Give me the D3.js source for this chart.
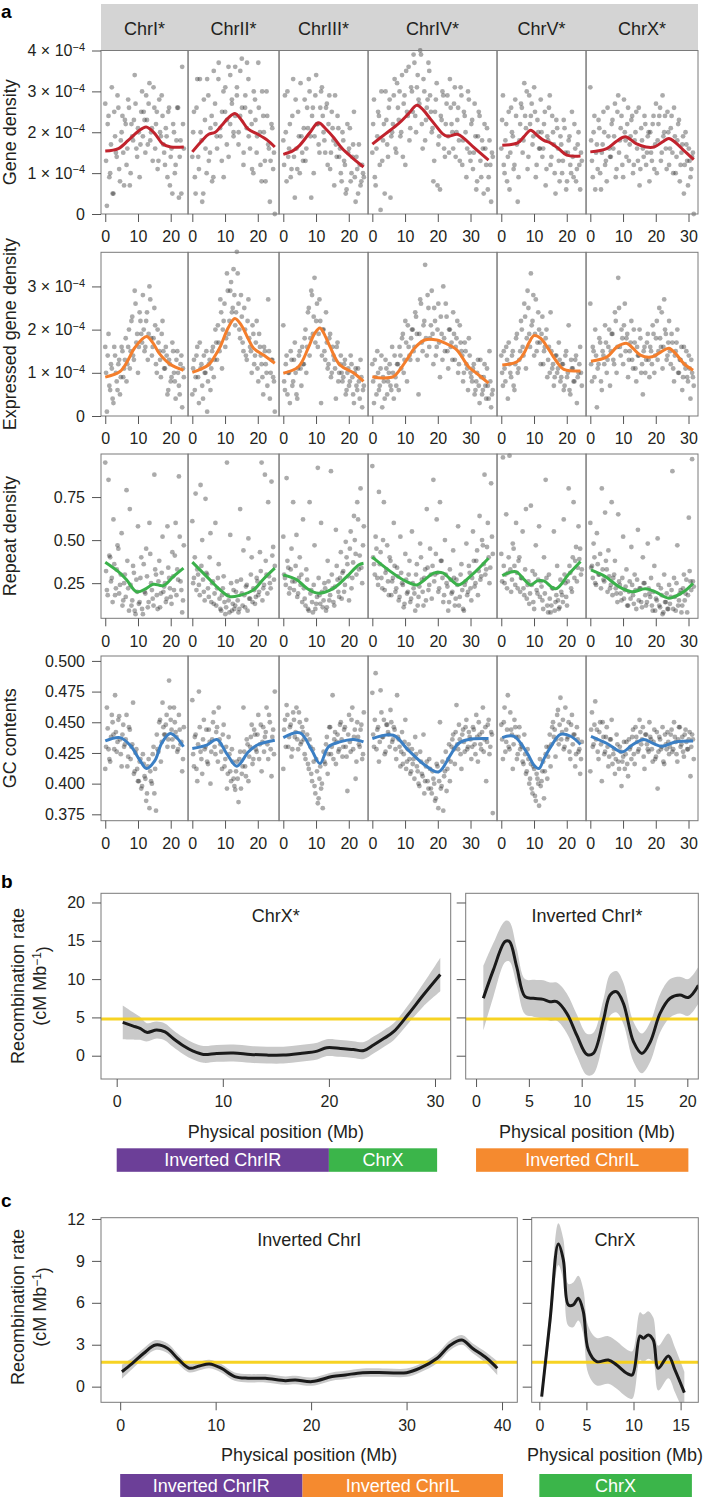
<!DOCTYPE html>
<html>
<head>
<meta charset="utf-8">
<script src="https://cdn.jsdelivr.net/npm/d3@7"></script>
<style>
body { margin: 0; background: #fff; }
text { font-family: "Liberation Sans", Arial, sans-serif; }
</style>
</head>
<body>
<svg id="chart" width="707" height="1497"></svg>
<script>
// ---------- panel a data ----------
var chromNames = ['ChrI*', 'ChrII*', 'ChrIII*', 'ChrIV*', 'ChrV*', 'ChrX*'];
var chromLen = [24.0, 25.2, 24.6, 36.8, 24.6, 31.6];   // Mb
var chromTicks = [[0, 10, 20], [0, 10, 20], [0, 10, 20], [0, 10, 20, 30], [0, 10, 20], [0, 10, 20, 30]];

// gene density, units of 1e-4; windows evenly spaced along each chromosome
var geneDensity = [
	[2.7,0.2,2.4,1.0,3.1,0.5,1.9,1.4,2.6,0.8,2.0,1.5,2.3, 1.2,2.8,0.7,2.2,1.8,3.4,1.6,2.1,0.9,2.5,1.9,2.3, 2.9,1.7,3.2,2.0,1.3,2.6,2.2,1.1,2.8,1.9,2.4,1.5, 2.1,0.9,2.6,1.4,0.5,2.0,1.2,2.6,0.4,1.8,3.6,1.6],
	[1.4,2.5,0.5,3.3,1.1,2.0,0.3,2.8,1.6,3.3,1.3,2.1,0.8, 3.5,2.2,1.6,3.7,1.9,2.5,0.9,3.1,2.3,1.4,3.4,2.7,2.0, 3.6,2.9,1.7,2.4,3.8,1.2,2.6,2.1,3.3,1.6,2.2,1.0,2.8, 1.5,3.7,2.0,0.8,2.4,1.3,3.0,1.7,0.3,2.2,1.1,0.0],
	[1.8,2.9,0.8,1.4,2.2,1.1,3.3,0.4,1.6,2.5,1.0,1.9,1.3, 2.8,1.6,2.1,3.0,0.4,2.6,1.9,3.4,2.2,1.5,3.0,2.4, 1.8,2.6,1.2,2.9,1.5,2.1,0.7,1.7,2.4,1.4,1.0,2.0, 1.3,0.5,2.2,1.6,0.8,1.4,2.5,0.3,1.1,1.7,0.7,1.2,0.9],
	[1.5,2.8,0.7,1.9,2.4,0.1,1.3,2.2,3.0,1.7,2.6,0.4,2.0, 2.9,1.6,3.2,2.3,1.9,3.4,2.7,1.2,2.5,3.6,2.1,3.0, 3.9,2.4,3.1,2.8,4.0,2.2,3.3,1.8,2.6,3.7,2.9,2.0, 0.8,2.5,3.2,1.7,0.6,2.3,2.9,1.4,2.7,1.9,3.3,2.2, 1.6,3.1,2.0,2.6,1.3,2.9,1.8,2.4,0.9,3.0,1.5,2.2, 1.1,2.7,0.6,1.9,2.4,0.9,1.6,2.2,1.2,0.6,1.8,0.3,1.4],
	[1.6,2.9,1.0,2.2,1.4,0.6,2.6,1.9,1.2,2.4,0.3,1.8,2.7, 1.5,3.2,2.1,1.1,2.9,2.4,1.7,3.1,0.9,2.3,1.6,2.8, 1.4,2.2,0.7,1.9,2.6,1.2,2.4,1.7,0.5,2.1,1.3,1.9, 1.0,2.3,1.5,0.8,1.8,1.2,2.5,0.9,1.6,1.1,2.0,0.6,1.3],
	[3.1,1.3,2.0,0.6,1.7,2.3,1.0,1.5,2.5,1.2,0.8,1.9,1.4, 2.2,1.6,2.7,1.1,2.9,1.8,2.4,0.9,2.0,1.4,2.6,1.7, 2.3,1.0,1.8,2.5,1.3,0.7,2.1,1.6,2.4,1.2,1.9,0.8, 1.5,2.2,1.1,2.7,1.8,2.4,1.3,2.9,2.0,1.6,2.5,1.2, 2.1,1.5,2.6,1.0,1.8,2.3,1.2,1.7,0.5,2.0,1.3,1.6,0.9,1.4,0.0]
];
// the windows that sit between the ones above
var geneDensityOffset = [
	[1.3,2.2,0.9,1.7,0.5,2.5,1.5,2.9,1.1,1.8,2.4,0.7, 2.2,1.6,2.6,1.0,1.9,2.3,2.7,1.4,2.0,1.7,3.0,2.5, 1.5,2.3,2.7,1.8,2.1,3.1,1.6,2.5,1.3,2.0,2.9,1.7, 1.2,1.9,2.5,0.7,1.6,2.2,1.0,1.8,2.6,1.4,0.5,2.2],
	[2.0,0.9,2.6,1.4,3.3,1.8,0.5,2.3,1.0,2.9,1.5,2.4,0.9, 2.7,1.9,3.3,2.1,1.3,3.0,2.5,1.7,3.6,2.2,2.8,1.9,2.4, 3.1,2.0,3.5,2.6,1.5,2.9,3.7,1.9,2.5,1.1,3.0,2.3, 1.9,2.6,1.2,3.0,2.0,0.8,2.4,1.6,1.3,2.1,1.5],
	[1.2,2.0,3.0,1.6,0.9,2.4,1.4,2.8,1.1,1.9,3.2,1.5, 2.1,1.3,2.6,3.3,1.9,2.4,1.0,2.9,2.2,1.7,2.6,3.1, 2.0,1.5,2.7,2.2,1.1,2.5,1.8,2.9,1.4,2.1,1.6,0.8, 1.8,1.2,0.6,1.5,2.1,1.0,1.7,0.9,1.4,0.5,1.2,0.8,1.0],
	[2.2,0.9,1.6,2.5,1.2,3.0,1.8,0.5,2.3,1.4,2.8,1.9, 2.2,3.3,1.5,2.6,3.0,2.0,1.4,2.9,3.5,2.4,1.8,3.1, 2.5,3.7,2.0,3.4,2.7,3.9,1.6,3.0,2.3,2.8,3.5,2.5, 2.1,1.3,2.8,0.7,1.9,2.4,3.0,1.6,2.2,2.9,1.5,2.6, 2.0,2.7,1.4,2.3,1.8,3.1,1.2,2.5,2.0,1.6,2.8,1.3, 2.3,1.5,1.9,0.8,2.5,1.3,1.8,0.5,1.6,2.1,0.9,1.2,1.5],
	[2.3,1.2,1.8,0.8,2.5,1.5,2.0,1.1,2.8,1.7,0.9,2.2, 2.6,1.8,2.4,3.0,1.4,2.2,2.7,1.9,2.5,1.2,2.0,1.6, 2.0,1.6,2.5,1.1,1.8,2.9,1.4,2.0,1.0,2.3,1.6,0.8, 1.7,1.3,2.1,0.6,1.5,1.9,1.0,1.4,2.2,0.8,1.7,1.2,1.5],
	[1.8,0.9,2.4,1.5,1.1,2.1,0.6,1.7,2.0,1.3,2.6,1.6, 1.4,2.3,1.9,0.9,2.5,1.5,2.1,1.2,2.8,1.8,2.2,1.3, 1.9,2.4,1.2,2.0,1.6,2.6,1.1,1.8,1.4,2.2,1.5,2.0, 2.0,1.3,2.4,1.7,1.0,2.2,2.6,1.5,1.9,2.4,1.1,2.0, 1.6,2.4,1.0,1.9,1.4,2.2,0.8,1.5,1.9,1.2,1.7,0.7,1.3,1.1,1.5]
];
var geneSmooth = [
	[[0,1.54],[4,1.6],[7,1.8],[10,2.02],[12.5,2.13],[15,1.98],[17.5,1.72],[20,1.64],[24,1.64]],
	[[0,1.52],[3,1.8],[5,1.95],[7,2.0],[9,2.17],[11,2.35],[13,2.46],[15,2.3],[17,2.08],[20,1.95],[23,1.8],[25.2,1.64]],
	[[0,1.46],[3,1.55],[5,1.68],[8,1.98],[10.7,2.23],[13,2.08],[15.5,1.86],[18,1.6],[21,1.38],[24.5,1.15]],
	[[0,1.71],[4,1.96],[8,2.21],[11,2.45],[13.6,2.66],[15.6,2.54],[17.5,2.35],[19.5,2.15],[21.5,1.96],[23,1.9],[26,1.95],[28,1.85],[31,1.63],[35.5,1.32]],
	[[0.3,1.68],[5,1.74],[7,1.9],[9,2.05],[11,1.92],[13,1.8],[15,1.74],[17.5,1.6],[20,1.44],[24.2,1.42]],
	[[0,1.52],[5,1.6],[8,1.78],[10.7,1.89],[14,1.72],[17,1.64],[19.5,1.64],[22,1.76],[24,1.85],[26,1.75],[28.5,1.56],[31.6,1.33]]
];
var geneTicks = [0, 1, 2, 3, 4];

// expressed gene density, units of 1e-4
var exprDensity = [
	[1.6,0.1,1.9,0.6,1.1,0.3,1.4,0.8,1.2,0.5,1.6,0.9,1.3, 0.8,1.6,1.1,2.2,1.4,2.9,1.7,1.0,2.4,1.9,2.8,1.5, 2.2,1.3,3.0,1.8,1.6,2.5,1.2,2.0,1.5,0.9,2.2,1.1, 1.6,0.5,1.3,0.8,1.7,1.0,0.4,1.5,0.7,1.2,0.2,0.9],
	[0.5,1.3,0.9,1.6,0.3,1.1,0.7,1.4,1.0,0.1,1.2,0.6,1.5, 0.9,2.0,1.3,1.7,2.7,1.1,2.2,1.6,3.3,1.9,2.9,2.4,3.4, 2.1,3.8,2.6,1.8,2.3,1.5,2.0,1.3,2.7,1.6,1.0,1.9,1.4, 2.2,0.8,1.6,1.2,0.5,1.5,1.0,2.7,0.4,1.3,0.9,0.1],
	[2.1,0.6,1.4,1.0,0.3,1.3,0.8,1.7,0.5,1.1,1.5,0.7,1.2, 1.8,1.0,2.4,1.4,2.9,1.9,3.2,2.2,1.6,2.7,0.3,2.0, 1.5,2.4,1.1,1.8,0.9,1.6,1.3,0.4,1.7,1.0,1.4,0.8, 1.2,0.5,1.0,0.7,1.4,0.9,0.3,1.1,0.6,0.8,1.3,0.2,0.7],
	[1.2,0.3,0.9,1.5,0.6,1.1,0.2,0.8,1.3,0.5,1.0,0.7,1.6, 0.4,0.9,1.2,0.6,1.4,1.8,1.0,2.2,0.8,1.6,1.3,2.0, 1.5,2.4,1.9,0.5,2.7,1.7,2.1,3.5,1.4,2.5,1.8,2.9, 1.2,2.2,1.6,2.6,0.9,1.9,3.0,1.5,2.3,1.1,2.0,1.7, 2.4,1.3,1.8,1.0,2.1,1.5,0.8,1.7,1.2,0.6,1.4,0.9, 1.1,0.5,0.8,1.3,0.3,0.9,0.6,1.2,0.4,0.7,1.5,0.2,0.6],
	[1.4,0.7,1.1,1.6,0.4,1.2,0.9,1.5,0.6,1.8,1.0,1.3,2.2, 1.6,2.6,1.1,2.9,1.9,3.3,2.2,1.4,2.7,1.7,2.0,1.2, 2.3,1.5,1.8,0.9,1.6,2.4,1.1,0.7,1.4,1.0,1.7,0.8, 1.2,0.6,1.4,0.9,2.1,0.5,1.1,0.8,1.3,0.3,1.0,1.6,0.7],
	[2.6,0.8,1.5,2.0,0.2,1.2,1.7,0.6,1.4,2.1,1.0,1.6,0.7, 1.9,1.3,2.4,1.0,3.2,1.6,2.0,1.2,2.6,1.8,0.9,1.5, 2.2,1.1,1.7,0.8,1.4,2.0,1.0,0.5,1.6,1.3,1.9,0.9, 1.5,2.1,1.0,1.8,1.3,2.5,1.6,1.1,2.7,1.9,1.4,2.2, 1.2,1.7,0.8,1.5,2.0,1.0,1.3,0.6,1.6,1.1,0.9,1.4,0.4,1.0,0.7]
];
var exprDensityOffset = [
	[1.0,1.4,0.7,1.2,0.4,1.6,1.0,0.6,1.3,0.9,1.5,1.1, 1.8,1.2,2.0,1.5,2.3,1.3,2.6,1.9,1.6,2.2,1.7,2.0, 1.6,2.4,1.9,2.7,1.4,1.8,2.1,1.0,1.7,1.3,1.9,1.5, 1.1,1.4,0.6,1.2,0.9,1.5,0.8,1.3,1.0,0.5,1.4,1.1],
	[1.1,0.6,1.4,0.9,1.7,1.2,0.4,1.0,1.5,0.8,1.3,1.1,1.6, 1.3,1.7,2.1,1.5,2.4,2.0,2.6,1.8,2.9,2.2,3.1,2.5,2.8, 2.4,3.3,2.0,2.8,1.7,2.5,1.4,2.2,1.8,1.5,2.1,1.2, 1.7,1.1,1.9,1.4,0.9,1.6,1.2,0.7,1.5,1.0,1.3,0.8],
	[0.8,1.2,0.5,1.0,1.5,0.7,1.3,1.0,0.4,1.4,1.1,1.6, 1.2,2.0,1.6,2.5,1.8,2.8,2.3,1.7,2.6,1.9,2.2,1.4, 2.0,1.3,1.7,1.2,1.9,1.0,1.4,1.1,1.6,0.8,1.2,1.0, 0.9,1.3,0.6,1.1,0.8,1.2,0.5,1.0,0.7,1.1,0.4,0.9,0.6],
	[0.8,1.3,0.5,1.0,0.7,1.4,0.9,0.4,1.1,0.8,1.2,0.6, 1.0,1.4,0.7,1.2,1.6,1.1,1.9,1.3,1.7,2.1,1.4,1.8, 2.0,1.6,2.3,1.3,1.9,2.6,1.5,2.2,1.8,2.8,1.6,2.1, 1.9,2.5,1.4,2.0,1.7,2.3,1.3,1.8,2.6,1.5,2.0,1.6, 1.3,1.9,1.6,2.2,1.2,1.7,1.4,1.0,1.5,1.1,1.8,1.0, 0.8,1.2,0.6,1.0,0.7,1.3,0.5,0.9,0.7,1.1,0.4,0.8,0.5],
	[1.0,1.5,0.8,1.3,1.7,1.0,1.4,0.7,1.2,1.9,1.1,1.5, 2.0,1.4,2.3,1.8,2.5,1.6,2.1,2.8,1.9,1.5,2.4,1.7, 1.9,1.2,1.6,2.0,1.3,1.0,1.5,1.2,0.9,1.4,1.1,1.3, 0.9,1.2,0.7,1.5,1.0,0.6,1.3,1.1,0.8,1.4,0.9,1.2,1.0],
	[1.2,1.6,0.9,1.4,1.1,1.8,0.8,1.5,1.2,1.7,1.3,2.0, 1.5,1.9,1.2,2.2,1.6,2.5,1.4,1.8,2.1,1.5,1.9,1.3, 1.7,1.3,2.0,1.1,1.6,1.4,1.8,1.2,1.5,1.0,1.7,1.3, 1.6,1.2,1.9,1.4,2.2,1.5,1.8,2.4,1.6,2.0,1.3,1.7, 1.5,1.9,1.1,1.4,1.7,1.0,1.3,1.6,0.9,1.2,1.5,0.8,1.1,1.3,0.9]
];
var exprSmooth = [
	[[0,0.9],[4.5,1.03],[7,1.3],[9,1.58],[12.6,1.84],[14.5,1.7],[16.5,1.45],[19.8,1.2],[23.9,1.06]],
	[[0,1.01],[4.9,1.18],[7,1.4],[8.5,1.6],[11,2.05],[13,2.26],[15,2.1],[17,1.8],[18.7,1.57],[22,1.4],[25.2,1.22]],
	[[0,0.99],[4.6,1.14],[7.6,1.57],[9.5,1.9],[11.2,2.04],[12.8,1.85],[14.3,1.6],[17.3,1.18],[21.4,1.0],[24.5,0.8]],
	[[0,0.91],[3,0.88],[6.4,0.91],[8.5,1.08],[10.5,1.3],[13,1.58],[16,1.76],[19.7,1.76],[23,1.66],[25.8,1.53],[27.5,1.35],[29.4,1.14],[32,0.98],[35.5,0.76]],
	[[0.3,1.18],[4.9,1.26],[6.9,1.45],[8.5,1.7],[10,1.86],[12,1.8],[14,1.6],[15.6,1.41],[17.5,1.2],[19.1,1.08],[24.2,1.04]],
	[[0.2,1.27],[5.1,1.37],[8.2,1.6],[11.2,1.68],[13,1.57],[15.3,1.41],[18.9,1.37],[21.5,1.48],[24,1.57],[26,1.45],[28.5,1.22],[31.4,1.06]]
];
var exprTicks = [0, 1, 2, 3];

// repeat density
var repeatDensity = [
	[0.95,0.21,0.85,0.40,0.28,0.62,0.18,0.33,0.45,0.24,0.54,0.15,0.30, 0.79,0.22,0.68,0.12,0.35,0.09,0.27,0.58,0.14,0.40,0.07,0.20, 0.45,0.11,0.60,0.25,0.16,0.88,0.30,0.10,0.38,0.19,0.52,0.23, 0.14,0.58,0.28,0.17,0.43,0.21,0.60,0.33,0.87,0.26,0.08,0.47],
	[0.61,0.28,0.77,0.33,0.24,0.82,0.50,0.20,0.74,0.30,0.17,0.54,0.25, 0.13,0.60,0.22,0.36,0.10,0.18,0.29,0.07,0.95,0.15,0.53,0.09,0.21, 0.12,0.26,0.08,0.68,0.19,0.44,0.11,0.24,0.51,0.16,0.40,0.22,0.13, 0.28,0.18,0.43,0.95,0.22,0.88,0.30,0.72,0.25,0.84,0.46,0.35],
	[0.52,0.28,0.86,0.34,0.22,0.45,0.72,0.26,0.53,0.19,0.40,0.30,0.62, 0.16,0.33,0.10,0.72,0.21,0.08,0.47,0.13,0.92,0.18,0.60,0.11, 0.25,0.09,0.38,0.15,0.90,0.22,0.12,0.56,0.27,0.17,0.43,0.31, 0.20,0.49,0.36,0.15,0.55,0.28,0.64,0.42,0.72,0.33,0.80,0.25,0.58],
	[0.93,0.36,0.52,0.28,0.78,0.43,0.22,0.72,0.31,0.47,0.18,0.38,0.26, 0.60,0.20,0.34,0.15,0.52,0.25,0.11,0.42,0.19,0.30,0.14,0.55, 0.22,0.09,0.36,0.17,0.48,0.27,0.12,0.33,0.68,0.21,0.45,0.16, 0.85,0.30,0.62,0.20,0.72,0.38,0.14,0.50,0.25,0.09,0.33,0.19, 0.44,0.12,0.27,0.58,0.17,0.36,0.10,0.24,0.48,0.20,0.31,0.15, 0.55,0.23,0.38,0.18,0.64,0.29,0.47,0.88,0.33,0.60,0.25,0.83,0.42],
	[0.42,0.98,0.25,0.65,0.31,0.99,0.20,0.48,0.35,0.60,0.22,0.40,0.28, 0.55,0.18,0.68,0.24,0.13,0.70,0.32,0.10,0.47,0.19,0.58,0.26, 0.15,0.40,0.85,0.12,0.30,0.08,0.22,0.55,0.14,0.35,0.10,0.27, 0.18,0.62,0.25,0.12,0.80,0.31,0.20,0.72,0.38,0.26,0.58,0.45,0.33],
	[0.60,0.35,0.48,0.25,0.54,0.30,0.42,0.80,0.27,0.66,0.33,0.44,0.22, 0.72,0.28,0.38,0.19,0.65,0.24,0.15,0.52,0.21,0.33,0.12,0.26, 0.46,0.18,0.30,0.10,0.56,0.22,0.14,0.40,0.25,0.12,0.48,0.19, 0.28,0.09,0.35,0.16,0.51,0.12,0.22,0.07,0.30,0.14,0.10,0.24, 0.17,0.90,0.28,0.09,0.47,0.15,0.21,0.12,0.30,0.19,0.08,0.63,0.26,0.97,0.23]
];
var repeatDensityOffset = [
	[0.32,0.18,0.41,0.26,0.14,0.36,0.22,0.47,0.19,0.30,0.12,0.25, 0.17,0.38,0.09,0.24,0.15,0.31,0.07,0.20,0.13,0.28,0.10,0.36, 0.19,0.29,0.14,0.42,0.21,0.12,0.33,0.18,0.26,0.11,0.31,0.20, 0.25,0.16,0.34,0.22,0.13,0.29,0.41,0.18,0.27,0.52,0.21,0.15],
	[0.25,0.40,0.21,0.30,0.18,0.35,0.27,0.15,0.31,0.22,0.40,0.14,0.26, 0.19,0.12,0.28,0.16,0.09,0.22,0.14,0.11,0.18,0.08,0.25,0.13,0.10, 0.20,0.15,0.10,0.27,0.12,0.18,0.23,0.09,0.16,0.30,0.14,0.21, 0.17,0.26,0.20,0.32,0.15,0.24,0.38,0.19,0.29,0.22,0.41,0.27],
	[0.30,0.24,0.38,0.19,0.33,0.26,0.21,0.35,0.17,0.28,0.24,0.14, 0.22,0.12,0.27,0.09,0.19,0.14,0.24,0.10,0.17,0.28,0.13,0.20, 0.15,0.22,0.11,0.26,0.18,0.30,0.14,0.23,0.35,0.20,0.28,0.16, 0.32,0.24,0.40,0.29,0.45,0.22,0.37,0.50,0.30,0.62,0.41,0.34,0.47],
	[0.40,0.30,0.45,0.24,0.36,0.28,0.50,0.21,0.33,0.26,0.40,0.18, 0.28,0.35,0.22,0.29,0.17,0.31,0.24,0.13,0.27,0.20,0.38,0.16, 0.25,0.19,0.30,0.12,0.23,0.40,0.20,0.28,0.15,0.34,0.24,0.30, 0.35,0.26,0.42,0.31,0.22,0.38,0.28,0.18,0.30,0.23,0.14,0.27, 0.20,0.28,0.16,0.24,0.12,0.30,0.21,0.09,0.26,0.18,0.35,0.22, 0.28,0.38,0.25,0.44,0.32,0.27,0.50,0.36,0.30,0.46,0.40,0.34,0.52],
	[0.26,0.35,0.30,0.22,0.40,0.33,0.27,0.45,0.24,0.31,0.38,0.20, 0.28,0.22,0.33,0.16,0.26,0.19,0.24,0.14,0.30,0.21,0.27,0.17, 0.23,0.10,0.19,0.28,0.08,0.16,0.12,0.22,0.09,0.18,0.15,0.11, 0.20,0.14,0.30,0.17,0.26,0.35,0.22,0.40,0.28,0.46,0.34,0.39,0.30],
	[0.34,0.28,0.40,0.24,0.36,0.30,0.22,0.33,0.26,0.38,0.20,0.29, 0.24,0.18,0.30,0.22,0.14,0.26,0.19,0.28,0.16,0.23,0.12,0.20, 0.16,0.24,0.13,0.21,0.27,0.15,0.22,0.11,0.25,0.18,0.14,0.22, 0.17,0.12,0.20,0.09,0.15,0.24,0.11,0.18,0.08,0.14,0.19,0.10, 0.13,0.21,0.10,0.17,0.25,0.12,0.19,0.08,0.22,0.15,0.27,0.18,0.32,0.21,0.26]
];
var repeatSmooth = [
	[[0,0.372],[4,0.317],[6.5,0.27],[9.6,0.2],[12.6,0.22],[14.7,0.244],[17.7,0.236],[20.8,0.288],[23.9,0.337]],
	[[0,0.372],[4.4,0.288],[8.5,0.211],[11.5,0.172],[14.6,0.18],[18.7,0.211],[21.7,0.273],[25.2,0.337]],
	[[0,0.298],[4.1,0.27],[7.2,0.22],[10.7,0.192],[15.3,0.22],[19.4,0.288],[23,0.356],[24.5,0.366]],
	[[0,0.401],[4.9,0.327],[10,0.263],[13.6,0.24],[16,0.27],[18.7,0.308],[21.7,0.308],[24,0.27],[26.3,0.24],[30.4,0.298],[35.5,0.395]],
	[[0.3,0.294],[4.4,0.317],[7,0.27],[9,0.24],[11,0.263],[13,0.263],[16.6,0.217],[20.5,0.3],[24.2,0.376]],
	[[0.2,0.327],[4.6,0.288],[8.7,0.23],[12.7,0.2],[16.8,0.217],[19.9,0.2],[24,0.163],[28.5,0.2],[31.4,0.25]]
];
var repeatTicks = [0.25, 0.50, 0.75];

// GC contents
var gcContent = [
	[0.412,0.462,0.428,0.418,0.456,0.440,0.472,0.426,0.452,0.436,0.414,0.448,0.432, 0.456,0.422,0.444,0.430,0.466,0.410,0.428,0.402,0.418,0.396,0.424,0.406, 0.386,0.414,0.380,0.402,0.424,0.392,0.378,0.428,0.450,0.418,0.466,0.440, 0.448,0.430,0.484,0.452,0.436,0.462,0.442,0.426,0.456,0.432,0.410,0.446],
	[0.468,0.414,0.440,0.402,0.475,0.426,0.408,0.452,0.430,0.418,0.444,0.400,0.436, 0.458,0.424,0.446,0.462,0.432,0.412,0.448,0.420,0.396,0.438,0.410,0.428,0.404, 0.395,0.418,0.385,0.426,0.408,0.462,0.414,0.436,0.402,0.430,0.448,0.420,0.440, 0.426,0.456,0.432,0.410,0.446,0.438,0.462,0.420,0.450,0.406,0.444,0.475],
	[0.412,0.452,0.464,0.430,0.446,0.422,0.458,0.438,0.462,0.428,0.450,0.434,0.442, 0.424,0.452,0.416,0.436,0.408,0.428,0.398,0.420,0.384,0.404,0.396,0.380, 0.418,0.432,0.408,0.446,0.424,0.472,0.436,0.416,0.440,0.428,0.450,0.422, 0.444,0.430,0.394,0.456,0.426,0.462,0.438,0.404,0.450,0.432,0.444,0.420,0.458],
	[0.474,0.430,0.490,0.444,0.418,0.476,0.438,0.452,0.426,0.448,0.440,0.460,0.434, 0.446,0.428,0.472,0.436,0.414,0.442,0.424,0.452,0.418,0.432,0.408,0.428, 0.420,0.438,0.414,0.400,0.426,0.408,0.440,0.402,0.418,0.396,0.412,0.392, 0.404,0.386,0.416,0.380,0.450,0.398,0.378,0.410,0.394,0.420,0.402,0.430, 0.440,0.416,0.464,0.428,0.436,0.412,0.444,0.426,0.452,0.430,0.438,0.420, 0.446,0.432,0.456,0.418,0.440,0.428,0.462,0.436,0.402,0.448,0.424,0.442,0.376],
	[0.448,0.420,0.462,0.434,0.472,0.428,0.444,0.412,0.452,0.438,0.424,0.446,0.432, 0.418,0.440,0.408,0.428,0.400,0.416,0.392,0.412,0.386,0.404,0.382,0.398, 0.410,0.388,0.424,0.404,0.430,0.414,0.446,0.438,0.422,0.456,0.432,0.470, 0.442,0.428,0.462,0.436,0.450,0.420,0.456,0.440,0.414,0.446,0.426,0.408,0.434],
	[0.410,0.458,0.432,0.467,0.444,0.420,0.450,0.402,0.438,0.426,0.446,0.414,0.436, 0.452,0.424,0.408,0.440,0.418,0.430,0.398,0.422,0.412,0.434,0.406,0.428, 0.420,0.444,0.416,0.438,0.426,0.452,0.432,0.446,0.412,0.440,0.428,0.450, 0.436,0.418,0.444,0.422,0.396,0.438,0.428,0.446,0.416,0.432,0.442,0.424, 0.440,0.426,0.450,0.434,0.418,0.446,0.430,0.438,0.422,0.444,0.428,0.436,0.406,0.440,0.420]
];
var gcContentOffset = [
	[0.430,0.445,0.420,0.438,0.450,0.428,0.442,0.434,0.455,0.424,0.440,0.430, 0.436,0.414,0.446,0.420,0.432,0.408,0.425,0.412,0.402,0.420,0.398,0.416, 0.404,0.392,0.420,0.410,0.400,0.430,0.412,0.440,0.426,0.452,0.434,0.446, 0.440,0.456,0.436,0.462,0.444,0.430,0.450,0.438,0.428,0.444,0.434,0.420],
	[0.424,0.438,0.412,0.432,0.446,0.420,0.436,0.428,0.444,0.416,0.434,0.426,0.450, 0.430,0.442,0.418,0.436,0.426,0.440,0.414,0.430,0.408,0.424,0.402,0.418,0.398, 0.410,0.404,0.420,0.396,0.414,0.426,0.406,0.432,0.422,0.438,0.416,0.444, 0.428,0.440,0.420,0.448,0.434,0.426,0.442,0.432,0.456,0.428,0.438,0.424],
	[0.444,0.430,0.456,0.438,0.448,0.428,0.452,0.442,0.436,0.458,0.432,0.446, 0.436,0.420,0.440,0.412,0.430,0.402,0.418,0.392,0.410,0.388,0.414,0.400, 0.426,0.416,0.438,0.424,0.446,0.430,0.420,0.442,0.434,0.426,0.448,0.436, 0.430,0.446,0.422,0.440,0.434,0.452,0.428,0.444,0.418,0.438,0.430,0.448,0.424],
	[0.440,0.452,0.428,0.446,0.434,0.458,0.438,0.424,0.448,0.442,0.430,0.450, 0.436,0.444,0.420,0.438,0.430,0.426,0.416,0.434,0.412,0.428,0.420,0.410, 0.416,0.404,0.424,0.410,0.398,0.418,0.406,0.392,0.414,0.402,0.420,0.396, 0.410,0.400,0.388,0.414,0.402,0.396,0.418,0.406,0.426,0.412,0.432,0.418, 0.436,0.428,0.442,0.432,0.448,0.424,0.440,0.434,0.446,0.428,0.442,0.436, 0.430,0.444,0.424,0.438,0.450,0.432,0.442,0.426,0.446,0.434,0.452,0.430,0.440],
	[0.436,0.450,0.426,0.444,0.430,0.458,0.440,0.432,0.446,0.420,0.438,0.428, 0.430,0.416,0.424,0.410,0.420,0.404,0.396,0.414,0.390,0.408,0.400,0.420, 0.402,0.418,0.410,0.430,0.422,0.440,0.432,0.450,0.444,0.436,0.460,0.448, 0.436,0.452,0.430,0.444,0.438,0.426,0.448,0.432,0.440,0.424,0.436,0.428,0.420],
	[0.444,0.430,0.448,0.436,0.426,0.442,0.432,0.450,0.424,0.438,0.430,0.422, 0.436,0.416,0.428,0.420,0.432,0.412,0.426,0.418,0.434,0.424,0.416,0.436, 0.430,0.438,0.424,0.446,0.434,0.428,0.442,0.436,0.422,0.440,0.432,0.426, 0.438,0.428,0.434,0.420,0.442,0.426,0.436,0.430,0.418,0.440,0.428,0.434, 0.430,0.444,0.428,0.438,0.424,0.436,0.446,0.432,0.426,0.440,0.434,0.428,0.442,0.430,0.436]
];
var gcSmooth = [
	[[0,0.4348],[4.5,0.4375],[7.6,0.4313],[10.6,0.419],[12.6,0.4123],[15.2,0.419],[17.2,0.4327],[19.8,0.4408],[22,0.437],[23.9,0.43]],
	[[0,0.4286],[4.4,0.4313],[7.5,0.436],[10.5,0.4245],[13.6,0.4142],[17.1,0.4258],[19.7,0.4313],[25.2,0.4353]],
	[[0,0.4375],[5.1,0.4413],[8.7,0.4272],[11.2,0.4164],[13.8,0.43],[17.3,0.434],[21.4,0.436],[24.5,0.434]],
	[[0,0.4367],[6.4,0.4394],[11,0.4272],[16.1,0.415],[20.2,0.4095],[23.8,0.4231],[26.3,0.4327],[29.4,0.436],[35.5,0.4367]],
	[[0.3,0.4375],[3.9,0.4386],[8,0.4245],[10,0.415],[11.5,0.4123],[13,0.42],[15.1,0.43],[18.1,0.4402],[21.2,0.4386],[24.2,0.4319]],
	[[0.2,0.4386],[5.1,0.4327],[9.7,0.4258],[12.7,0.4313],[16.3,0.436],[19,0.433],[21.9,0.4304],[26,0.434],[31.4,0.4348]]
];
var gcTicks = [0.375, 0.400, 0.425, 0.450, 0.475, 0.500];

// ---------- panels b and c data ----------
var bXstarX   = [0.57,1.5,2.2,2.83,3.77,4.55,5.3,6.28,7.2,8.17,9.43,11,12.6,14.15,15.7,17.3,18.9,19.8,21.1,22.3,23.3,24.2,25.2,26.1,27.5,28.9,30.5];
var bXstarMid = [4.36,3.9,3.57,3.05,3.35,3.1,2.27,1.3,0.6,0.17,0.3,0.35,0.17,0.08,0.08,0.3,0.6,1.05,0.95,0.8,0.68,1.4,2.27,3.13,5.44,7.92,10.6];
var bXstarCI  = [2.2,1.8,1.5,1.2,1.1,1.1,1.1,1.1,1.1,1.1,1.1,1.1,1.1,1.1,1.1,1.1,1.1,1.1,1.1,1.1,1.1,1.1,1.1,1.1,1.2,1.5,2.2];

var bInvX   = [0.69,1.64,2.75,3.16,3.85,4.64,5.43,6.37,7.0,7.64,8.59,9.53,10.48,11.1,12.06,12.69,13.3,13.95,14.9,15.7,16.5,17.42,18.37,19.3,20.1,21.05];
var bInvMid = [7.5,11.2,14.9,14.9,11.6,7.7,7.5,7.35,7.05,7.05,5.53,2.7,0.18,0.3,4.66,7.92,8.35,6.84,1.83,0.3,1.83,5.53,7.5,7.92,7.6,9.2];
var bInvCI  = [4.2,3.5,2.7,2.6,2.4,2.3,2.4,2.5,2.5,2.5,2.6,2.7,2.7,2.7,2.7,2.7,2.7,2.7,2.6,2.6,2.6,2.5,2.5,2.4,2.4,2.4];

var cInvX   = [0.18,1.24,2.47,3.7,4.94,6.0,7.23,8.29,9.35,10.58,11.99,13.4,15.2,17.3,18.34,20.1,22.2,23.6,25.4,27.9,30.0,31.4,33.2,34.6,35.8,36.9,38.4,39.5];
var cInvMid = [1.07,1.65,2.39,2.98,2.75,2.03,1.32,1.48,1.62,1.32,0.72,0.6,0.6,0.43,0.48,0.36,0.72,0.84,1.0,1.0,1.0,1.32,2.03,2.98,3.34,2.75,2.03,1.32];
var cInvCI  = [0.5,0.4,0.35,0.35,0.35,0.35,0.3,0.3,0.3,0.3,0.3,0.3,0.3,0.3,0.3,0.3,0.3,0.3,0.3,0.3,0.3,0.3,0.35,0.35,0.35,0.35,0.4,0.5];

var cXX   = [0.25,1.14,2.02,2.55,3.08,3.6,4.14,4.67,5.2,6.09,7.33,8.22,9.28,9.87,10.69,11.04,11.57,12.1,12.63,13.7,14.4,15.4];
var cXMid = [-0.72,4.77,10.2,9.07,5.85,5.85,6.33,5.37,2.63,1.79,1.91,1.55,0.96,0.84,3.63,3.46,3.7,3.34,1.32,2.2,1.2,-0.43];
var cXCI  = [0.5,1.0,1.5,1.5,1.5,1.6,1.6,1.6,1.7,1.7,1.7,1.7,1.7,1.7,1.7,1.7,1.7,1.6,1.6,1.6,1.6,1.5];

var bMeanRate = 4.8;
var cMeanRate = 1.75;
var bRateTicks = [0, 5, 10, 15, 20];
var cRateTicks = [0, 3, 6, 9, 12];

var bLeftSegments  = [{from: 0, to: 20, label: 'Inverted ChrIR', color: '#6c3f98'}, {from: 20, to: 30.2, label: 'ChrX', color: '#3bb54a'}];
var bRightSegments = [{from: 0, to: 20.1, label: 'Inverted ChrIL', color: '#f58a2f'}];
var cLeftSegments  = [{from: 0, to: 19.1, label: 'Inverted ChrIR', color: '#6c3f98'}, {from: 19.1, to: 40.1, label: 'Inverted ChrIL', color: '#f58a2f'}];
var cRightSegments = [{from: 0, to: 16.2, label: 'ChrX', color: '#3bb54a'}];

// ---------- drawing ----------
var svg = d3.select('#chart');
var textCol = '#231f20';
var frameCol = '#7a7a7a';
var tickFont = 16;
var titleFont = 18;

var aLeft = 101, aRight = 698, pad = 1.3;
var totalMb = d3.sum(chromLen) + 2 * pad * chromLen.length;
var mbPx = (aRight - aLeft) / totalMb;
var panelX0 = [];
var acc = aLeft;
chromLen.forEach(function(L){ panelX0.push(acc); acc += (L + 2 * pad) * mbPx; });
var xScales = chromLen.map(function(L, i){
	return d3.scaleLinear().domain([-pad, L + pad]).range([panelX0[i], panelX0[i] + (L + 2 * pad) * mbPx]);
});

addPanelLetter = function(letter, y){
	svg.append('text')
		.attr('x', 1)
		.attr('y', y)
		.attr('font-size', 19)
		.attr('font-weight', 'bold')
		.attr('fill', '#000')
		.text(letter);
};

styleAxis = function(g){
	g.select('.domain').remove();
	g.selectAll('.tick line').attr('stroke', '#555');
	g.selectAll('.tick text')
		.attr('font-size', tickFont)
		.attr('font-family', '"Liberation Sans", Arial, sans-serif')
		.attr('fill', textCol);
};

sciLabels = function(g){
	g.selectAll('.tick text').each(function(d){
		if (d === 0) return;
		var t = d3.select(this).text('');
		t.append('tspan').text(d + ' \u00d7 10');
		t.append('tspan').attr('dy', '-0.5em').attr('font-size', 11).text('\u22124');
	});
};

addRotTitle = function(lines, x, cy){
	lines.forEach(function(line, k){
		var t = svg.append('text')
			.attr('transform', 'translate(' + (x + k * 22) + ',' + cy + ') rotate(-90)')
			.attr('text-anchor', 'middle')
			.attr('font-size', titleFont)
			.attr('fill', textCol);
		if (typeof line === 'string') {
			t.text(line);
		} else {
			t.append('tspan').text(line[0]);
			t.append('tspan').attr('dy', '-0.45em').attr('font-size', 12).text(line[1]);
			t.append('tspan').attr('dy', '0.45em').text(line[2]);
		}
	});
};

addDots = function(g, vals, xs, ys, L, offset){
	var n = offset ? vals.length : vals.length - 1;
	var step = L / n;
	g.selectAll(null)
		.data(vals)
		.enter()
		.append('circle')
		.attr('cx', function(d, k){ return xs((k + (offset ? 0.5 : 0)) * step); })
		.attr('cy', function(d){ return ys(d); })
		.attr('r', 2.4)
		.attr('fill', '#222')
		.attr('fill-opacity', 0.38);
};

// panel a: strip
addPanelLetter('a', 17.5);
svg.append('rect')
	.attr('x', aLeft).attr('y', 4)
	.attr('width', aRight - aLeft).attr('height', 46)
	.attr('fill', '#d4d4d4');
chromNames.forEach(function(name, i){
	var xs = xScales[i];
	svg.append('text')
		.attr('x', (xs.range()[0] + xs.range()[1]) / 2)
		.attr('y', 34.5)
		.attr('text-anchor', 'middle')
		.attr('font-size', titleFont)
		.attr('fill', textCol)
		.text(name);
});

var rows = [
	{title: 'Gene density', vals: geneDensity, vals2: geneDensityOffset, smooth: geneSmooth, color: '#c1232d', top: 50.5, bottom: 214, domain: [0, 4.0], ticks: geneTicks, sci: true},
	{title: 'Expressed gene density', vals: exprDensity, vals2: exprDensityOffset, smooth: exprSmooth, color: '#f47e2c', top: 252.3, bottom: 416, domain: [0, 3.79], ticks: exprTicks, sci: true},
	{title: 'Repeat density', vals: repeatDensity, vals2: repeatDensityOffset, smooth: repeatSmooth, color: '#3bb14b', top: 454, bottom: 618.3, domain: [0.046, 1.0], ticks: repeatTicks, fmt: d3.format('.2f')},
	{title: 'GC contents', vals: gcContent, vals2: gcContentOffset, smooth: gcSmooth, color: '#3b7fc4', top: 656, bottom: 820.7, domain: [0.3698, 0.504], ticks: gcTicks, fmt: d3.format('.3f')}
];

rows.forEach(function(row, r){
	var ys = d3.scaleLinear().domain(row.domain).range([row.bottom, row.top]);
	var rowG = svg.append('g').attr('id', 'row' + r);

	chromLen.forEach(function(L, i){
		var xs = xScales[i];
		var pg = rowG.append('g').attr('class', 'chromPanel');
		addDots(pg, row.vals[i], xs, ys, L, false);
		addDots(pg, row.vals2[i], xs, ys, L, true);

		pg.append('path')
			.datum(row.smooth[i])
			.attr('fill', 'none')
			.attr('stroke', row.color)
			.attr('stroke-width', 3)
			.attr('stroke-linejoin', 'round')
			.attr('d', d3.line()
				.x(function(d){ return xs(d[0]); })
				.y(function(d){ return ys(d[1]); })
				.curve(d3.curveCatmullRom.alpha(0.5)));

		pg.append('rect')
			.attr('x', xs.range()[0]).attr('y', row.top)
			.attr('width', xs.range()[1] - xs.range()[0])
			.attr('height', row.bottom - row.top)
			.attr('fill', 'none')
			.attr('stroke', frameCol)
			.attr('stroke-width', 1);

		rowG.append('g')
			.attr('transform', 'translate(0,' + row.bottom + ')')
			.call(d3.axisBottom(xs).tickValues(chromTicks[i]).tickSize(8).tickPadding(9).tickSizeOuter(0))
			.call(styleAxis);
	});

	var yAxis = d3.axisLeft(ys).tickValues(row.ticks).tickSize(9).tickPadding(7)
		.tickFormat(row.fmt ? row.fmt : d3.format('d'));
	var yg = rowG.append('g')
		.attr('transform', 'translate(' + aLeft + ',0)')
		.call(yAxis)
		.call(styleAxis);
	if (row.sci) yg.call(sciLabels);

	addRotTitle([row.title], 16, (row.top + row.bottom) / 2);
});

// panels b and c
drawRecPanel = function(cfg){
	var xs = d3.scaleLinear().domain(cfg.xDomain).range([cfg.x0, cfg.x1]);
	var ys = d3.scaleLinear().domain(cfg.yDomain).range([cfg.y1, cfg.y0]);
	var g = svg.append('g');
	var clipId = 'clip' + cfg.id;
	svg.append('clipPath').attr('id', clipId)
		.append('rect')
		.attr('x', cfg.x0).attr('y', cfg.y0)
		.attr('width', cfg.x1 - cfg.x0).attr('height', cfg.y1 - cfg.y0);

	var pts = cfg.xs.map(function(x, k){ return {x: x, m: cfg.mid[k], ci: cfg.ci[k]}; });
	var inner = g.append('g').attr('clip-path', 'url(#' + clipId + ')');

	inner.append('path')
		.datum(pts)
		.attr('fill', '#c9c9c9')
		.attr('d', d3.area()
			.x(function(d){ return xs(d.x); })
			.y0(function(d){ return ys(d.m - d.ci); })
			.y1(function(d){ return ys(d.m + d.ci); })
			.curve(d3.curveCatmullRom.alpha(0.5)));

	inner.append('line')
		.attr('x1', cfg.x0).attr('x2', cfg.x1)
		.attr('y1', ys(cfg.mean)).attr('y2', ys(cfg.mean))
		.attr('stroke', '#f7d117')
		.attr('stroke-opacity', 0.95)
		.attr('stroke-width', 3);

	inner.append('path')
		.datum(pts)
		.attr('fill', 'none')
		.attr('stroke', '#1a1a1a')
		.attr('stroke-width', 3)
		.attr('stroke-linejoin', 'round')
		.attr('d', d3.line()
			.x(function(d){ return xs(d.x); })
			.y(function(d){ return ys(d.m); })
			.curve(d3.curveCatmullRom.alpha(0.5)));

	g.append('rect')
		.attr('x', cfg.x0).attr('y', cfg.y0)
		.attr('width', cfg.x1 - cfg.x0).attr('height', cfg.y1 - cfg.y0)
		.attr('fill', 'none')
		.attr('stroke', frameCol)
		.attr('stroke-width', 1);

	g.append('text')
		.attr('x', (cfg.x0 + cfg.x1) / 2 + (cfg.titleDx || 0))
		.attr('y', cfg.y0 + 28.5)
		.attr('text-anchor', 'middle')
		.attr('font-size', titleFont)
		.attr('fill', textCol)
		.text(cfg.title);

	g.append('g')
		.attr('transform', 'translate(0,' + cfg.y1 + ')')
		.call(d3.axisBottom(xs).tickValues(cfg.xTicks).tickSize(8).tickPadding(9).tickSizeOuter(0))
		.call(styleAxis);

	var ya = d3.axisLeft(ys).tickValues(cfg.yTicks).tickSize(9).tickPadding(7);
	if (!cfg.yLabels) ya.tickFormat('');
	g.append('g')
		.attr('transform', 'translate(' + cfg.x0 + ',0)')
		.call(ya)
		.call(styleAxis);

	g.append('text')
		.attr('x', (cfg.x0 + cfg.x1) / 2 + (cfg.xTitleDx || 0))
		.attr('y', cfg.y1 + 58.5)
		.attr('text-anchor', 'middle')
		.attr('font-size', titleFont)
		.attr('fill', textCol)
		.text('Physical position (Mb)');

	var segG = g.append('g');
	cfg.segments.forEach(function(s){
		segG.append('rect')
			.attr('x', xs(s.from)).attr('y', cfg.barY)
			.attr('width', xs(s.to) - xs(s.from)).attr('height', 23.5)
			.attr('fill', s.color);
		segG.append('text')
			.attr('x', (xs(s.from) + xs(s.to)) / 2)
			.attr('y', cfg.barY + 18)
			.attr('text-anchor', 'middle')
			.attr('font-size', 18)
			.attr('fill', '#fff')
			.text(s.label);
	});
};

addPanelLetter('b', 888);
drawRecPanel({id: 'bl', x0: 101, x1: 450.7, y0: 893.3, y1: 1079, xDomain: [-1.48, 31.48], yDomain: [-3.04, 21.2],
	xs: bXstarX, mid: bXstarMid, ci: bXstarCI, mean: bMeanRate, title: 'ChrX*',
	xTicks: [0, 10, 20, 30], yTicks: bRateTicks, yLabels: true, segments: bLeftSegments, barY: 1148.3});
drawRecPanel({id: 'br', x0: 465.7, x1: 698.3, y0: 893.3, y1: 1079, xDomain: [-0.98, 21.04], yDomain: [-3.04, 21.2],
	xs: bInvX, mid: bInvMid, ci: bInvCI, mean: bMeanRate, title: 'Inverted ChrI*', titleDx: 5, xTitleDx: 5,
	xTicks: [0, 5, 10, 15, 20], yTicks: bRateTicks, yLabels: false, segments: bRightSegments, barY: 1148.3});
addRotTitle(['Recombination rate', ['(cM Mb', '\u22121', ')']], 24, 986);

addPanelLetter('c', 1207);
drawRecPanel({id: 'cl', x0: 101, x1: 517.3, y0: 1217.7, y1: 1402.3, xDomain: [-2.01, 41.6], yDomain: [-1.12, 12.09],
	xs: cInvX, mid: cInvMid, ci: cInvCI, mean: cMeanRate, title: 'Inverted ChrI',
	xTicks: [0, 10, 20, 30, 40], yTicks: cRateTicks, yLabels: true, segments: cLeftSegments, barY: 1474});
drawRecPanel({id: 'cr', x0: 531.7, x1: 698.3, y0: 1217.7, y1: 1402.3, xDomain: [-0.81, 16.88], yDomain: [-1.12, 12.09],
	xs: cXX, mid: cXMid, ci: cXCI, mean: cMeanRate, title: 'ChrX',
	xTicks: [0, 5, 10, 15], yTicks: cRateTicks, yLabels: false, segments: cRightSegments, barY: 1474});
addRotTitle(['Recombination rate', ['(cM Mb', '\u22121', ')']], 24, 1307);
</script>
</body>
</html>
